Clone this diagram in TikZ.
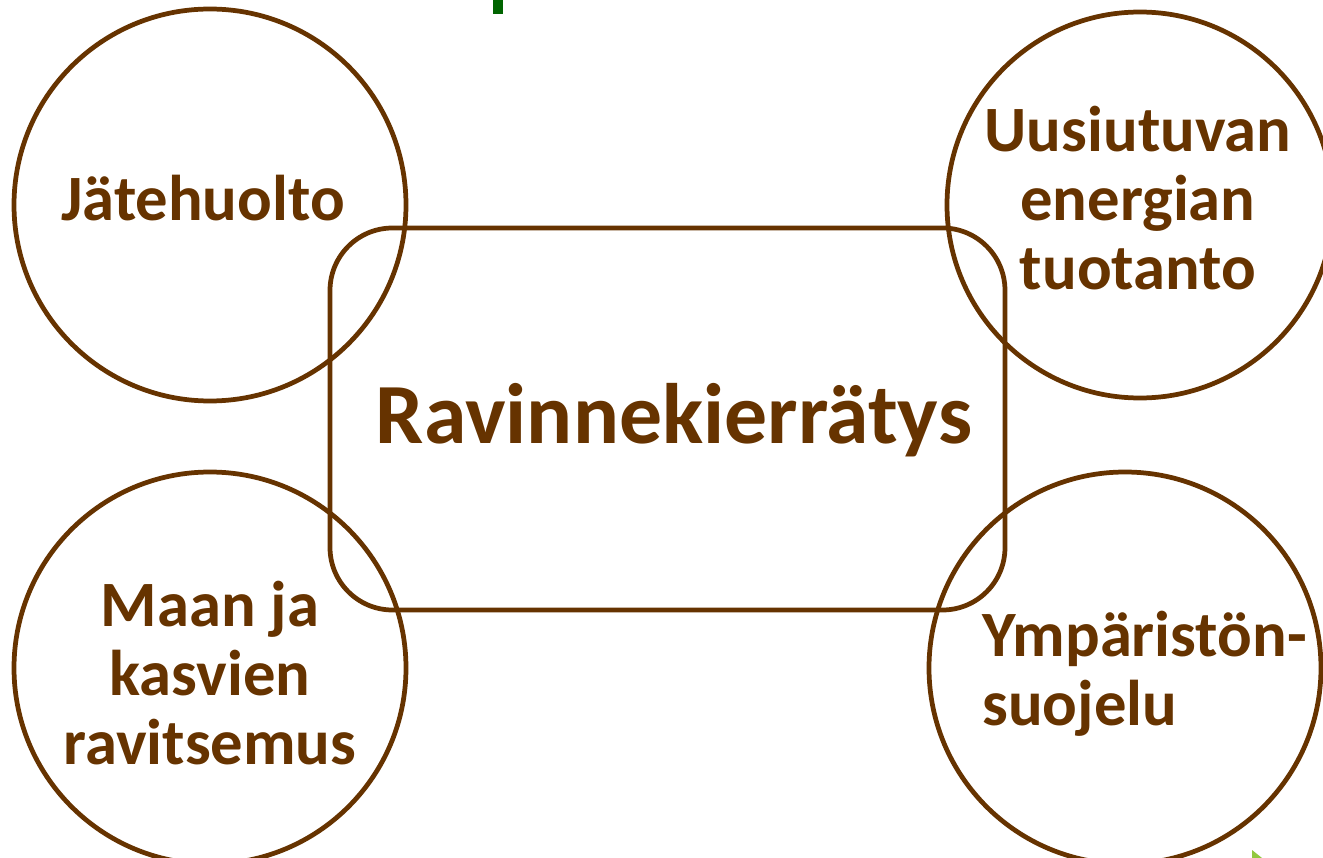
\documentclass[tikz,border=0pt]{standalone}
\usepackage{fontspec}
\setmainfont{Carlito}
\usetikzlibrary{positioning,calc}
\definecolor{ruskea}{HTML}{663300}
\definecolor{vihrea}{HTML}{006400}
\definecolor{lehti}{HTML}{92C83E}

\begin{document}
\begin{tikzpicture}[x=0.02cm, y=-0.02cm, every node/.style={font=\bfseries, text=ruskea}]
  \useasboundingbox (0,0) rectangle (1323,858);
  \tikzset{
    ympyra/.style={draw=ruskea, line width=2.7pt, circle, minimum size=392*0.02cm, inner sep=0pt},
    laatikko/.style={draw=ruskea, line width=2.7pt, rounded corners=1.25cm, minimum width=675*0.02cm, minimum height=382*0.02cm, inner sep=0pt},
    teksti/.style={font=\fontsize{36.8}{39.5}\selectfont\bfseries, align=center}
  }
  % four theme circles
  \node[ympyra] (jate) at (210,205) {};
  \node[ympyra, minimum size=386*0.02cm] (energia) at (1140,205) {};
  \node[ympyra] (maa) at (210,668) {};
  \node[ympyra] (ymparisto) at (1125,668) {};

  % central box
  \node[laatikko] (ravinne) at (667.5,419) {};
  \node[font=\fontsize{48.8}{58}\selectfont\bfseries] (ravtxt) at (674,420) {Ravinnekierrätys};

  % texts in circles
  \node[teksti] (jatetxt) at (203,198) {Jätehuolto};
  \node[teksti] (energiatxt) at (1138,198) {Uusiutuvan\\energian\\tuotanto};
  \node[teksti] (maatxt) at (210,673) {Maan ja\\kasvien\\ravitsemus};
  \node[teksti, align=left, anchor=west] (ympatxt) at (976,674) {Ympäristön-\\suojelu};

  % cut-off bits at the edges
  \fill[vihrea] (493,0) rectangle (503,14);
  \fill[lehti] (1252,850) -- (1262,858) -- (1252,858) -- cycle;
\end{tikzpicture}
\end{document}
